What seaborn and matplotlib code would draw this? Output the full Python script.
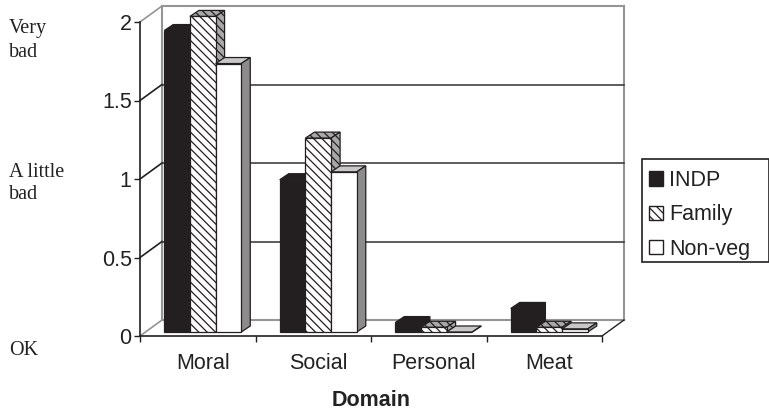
"""Grouped bar chart of wrongness ratings per domain, drawn with a fake 3D look."""

import matplotlib
matplotlib.use("Agg")
import matplotlib.pyplot as plt
import pandas as pd
import seaborn as sns
from matplotlib.patches import Patch, Polygon, Rectangle

domains = ["Moral", "Social", "Personal", "Meat"]
groups = ["INDP", "Family", "Non-veg"]
indp = [1.92, 0.97, 0.06, 0.15]
family = [2.01, 1.235, 0.03, 0.03]
non_veg = [1.71, 1.02, 0.0, 0.02]
y_ticks = [0, 0.5, 1, 1.5, 2]
y_tick_labels = ["0", "0.5", "1", "1.5", "2"]

W, H = 769, 409
DARK = "#231f20"
WALL = "#959595"
HATCH = "\\\\\\\\"

df = pd.DataFrame({
    "Domain": domains * 3,
    "Group": [g for g in groups for _ in domains],
    "Rating": indp + family + non_veg,
})

plt.rcParams["font.family"] = ["Liberation Sans", "DejaVu Sans"]
plt.rcParams["hatch.linewidth"] = 0.9

fig = plt.figure(figsize=(W / 100, H / 100), dpi=100)
ax = fig.add_axes([140 / W, 1 - 336 / H, 462 / W, 314 / H])
bar_ax = fig.add_axes([145 / W, 1 - 332 / H, 462 / W, 314 / H])
bar_ax.patch.set_visible(False)

sns.barplot(
    data=df, x="Domain", y="Rating", hue="Group", order=domains, hue_order=groups,
    palette=[DARK, "white", "white"], saturation=1, width=0.667, gap=0,
    edgecolor=DARK, linewidth=0.9, legend=False, ax=bar_ax,
)
bar_ax.set_xlim(-0.5, 3.5)
bar_ax.set_ylim(0, 2)
ax.set_xlim(-0.5, 3.5)
ax.set_ylim(0, 2)

# depth of one bar and of the whole chart box, in data units
bar_dx, bar_dy = 9 / 115.5, 6 / 157
wall_dx, wall_dy = 22 / 115.5, 16 / 157

# back wall, floor and gridlines
ax.plot([-0.5 + wall_dx] * 2, [wall_dy, 2 + wall_dy], color=WALL, lw=1.5, clip_on=False)
ax.plot([3.5 + wall_dx] * 2, [wall_dy, 2 + wall_dy], color=WALL, lw=1.5, clip_on=False)
ax.plot([-0.5 + wall_dx, 3.5 + wall_dx], [2 + wall_dy] * 2, color=WALL, lw=1.5, clip_on=False)
ax.plot([-0.5 + wall_dx, 3.5 + wall_dx], [wall_dy] * 2, color=WALL, lw=1.5, clip_on=False)
ax.plot([3.5, 3.5 + wall_dx], [0, wall_dy], color=DARK, lw=1, clip_on=False)
for tick in y_ticks:
    color = WALL if tick in (0, 2) else DARK
    ax.plot([-0.5, -0.5 + wall_dx], [tick, tick + wall_dy], color=color, lw=1.2, clip_on=False)
    if tick not in (0, 2):
        ax.plot([-0.5 + wall_dx, 3.5 + wall_dx], [tick + wall_dy] * 2, color="#303030", lw=1.1,
                clip_on=False)

ax.set_yticks(y_ticks, labels=y_tick_labels, fontsize=15.5, color="#222222")
ax.set_xticks([-0.5, 0.5, 1.5, 2.5, 3.5], labels=[])
ax.tick_params(axis="both", length=4.5, width=1, color=DARK, pad=1.5)
for name in ("top", "right"):
    ax.spines[name].set_visible(False)
for name in ("left", "bottom"):
    ax.spines[name].set_color(DARK)
    ax.spines[name].set_linewidth(1.2)
ax.set_xlabel("Domain", fontsize=15.5, fontweight="bold", color="#222222")
ax.xaxis.set_label_coords(0.5, -0.172)

for name in bar_ax.spines:
    bar_ax.spines[name].set_visible(False)
bar_ax.set_yticks([])
bar_ax.set_ylabel("")
bar_ax.set_xlabel("")
bar_ax.tick_params(axis="x", length=0, pad=15, labelsize=15.5, labelcolor="#222222")

# turn the flat seaborn bars into boxes, series by series
styles = [
    {"top": DARK, "side": DARK, "hatch": None},
    {"top": "#a8a8a8", "side": "#a8a8a8", "hatch": HATCH},
    {"top": "#c8c8c8", "side": "#8c8c8c", "hatch": None},
]
bars = list(bar_ax.patches)
for n, bar in enumerate(bars):
    series = n // len(domains)
    style = styles[series]
    x0, w, h = bar.get_x(), bar.get_width(), bar.get_height()
    x1 = x0 + w
    bar.set_clip_on(False)
    bar.set_zorder(4 + 2 * series)
    if style["hatch"]:
        bar.set_hatch(style["hatch"])
    top = [(x0, h), (x1, h), (x1 + bar_dx, h + bar_dy), (x0 + bar_dx, h + bar_dy)]
    side = [(x1, 0), (x1 + bar_dx, bar_dy), (x1 + bar_dx, h + bar_dy), (x1, h)]
    for pts, face in ((top, style["top"]), (side, style["side"])):
        bar_ax.add_patch(Polygon(
            pts, closed=True, facecolor=face, edgecolor=DARK, linewidth=0.9,
            hatch=style["hatch"], clip_on=False, zorder=3 + 2 * series,
        ))

# rating scale words on the far left
for y, text in ((33, "Very"), (57, "bad"), (177, "A little"), (199, "bad"), (355, "OK")):
    fig.text(9 / W, 1 - y / H, text, family="Liberation Serif", fontsize=14.5,
             va="baseline", ha="left", color="#222222")

handles = [
    Patch(facecolor=DARK, edgecolor=DARK, label=groups[0]),
    Patch(facecolor="white", edgecolor=DARK, hatch=HATCH, label=groups[1]),
    Patch(facecolor="white", edgecolor=DARK, label=groups[2]),
]
fig.add_artist(Rectangle((642 / W, 1 - 262 / H), 127 / W, 103 / H, transform=fig.transFigure,
                         facecolor="white", edgecolor=DARK, linewidth=1.2))
legend = fig.legend(
    handles=handles, loc="upper left", bbox_to_anchor=(649 / W, 1 - 170 / H),
    bbox_transform=fig.transFigure, fontsize=15.5, frameon=False, borderaxespad=0,
    handlelength=0.65, handleheight=0.65, handletextpad=0.3, labelspacing=0.62,
    borderpad=0, labelcolor="#222222",
)

fig.savefig("out.png", dpi=100)
plt.close(fig)
